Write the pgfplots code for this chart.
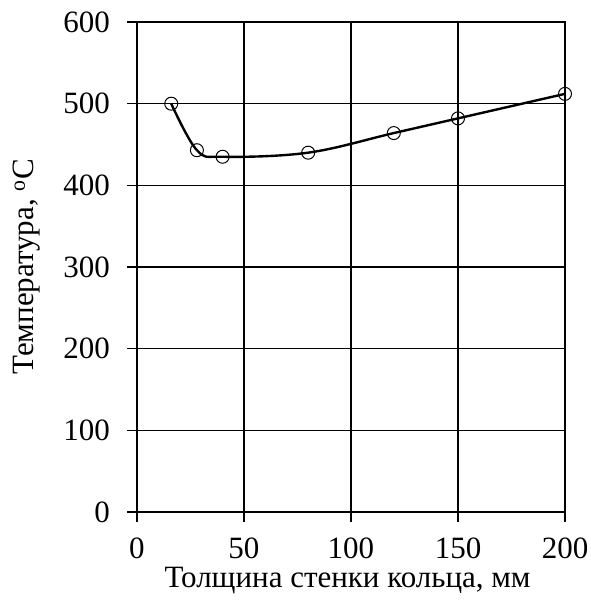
\documentclass[border=0pt]{standalone}
\usepackage{pgfplots}
\pgfplotsset{compat=1.18}
\usepackage{fontspec}
\setmainfont{Liberation Serif}
\begin{document}
\fontsize{31bp}{36bp}\selectfont
\begin{tikzpicture}
\useasboundingbox (-137bp,-89bp) rectangle (454bp,512bp);
\begin{axis}[
    scale only axis,
    width=428bp, height=490bp,
    xmin=0, xmax=200, ymin=0, ymax=600,
    xtick={0,50,...,200}, ytick={0,100,...,600},
    tick pos=left,
    tick align=outside,
    major tick length=9.5bp,
    grid=major,
    grid style={black, line width=1.1pt},
    axis line style={line width=1.3pt},
    every tick/.style={black, line width=1.1pt},
    /pgf/number format/assume math mode=true,
    ticklabel style={font=\fontsize{31bp}{36bp}\selectfont},
    xticklabel style={yshift=-6bp},
    yticklabel style={xshift=-7bp},
    label style={font=\fontsize{31bp}{36bp}\selectfont},
    xlabel={Толщина стенки кольца, мм},
    ylabel={Температура, \textsuperscript{o}C},
    xlabel style={at={(axis description cs:0.492,-0.14)}, anchor=center},
    ylabel style={at={(axis description cs:-0.257,0.5)}, anchor=center},
]
\addplot[black, line width=2.4pt, smooth, tension=0.6,
    mark=o, mark size=6.5bp,
    mark options={line width=1pt, fill=none}]
    coordinates {
    (16,500) (28,443) (40,435) (80,440) (120,464) (150,482) (200,512)
    };
\end{axis}
\end{tikzpicture}
\end{document}
